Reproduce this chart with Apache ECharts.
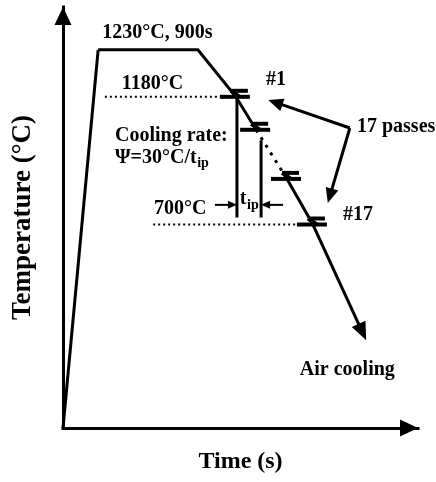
<!DOCTYPE html>
<html>
<head>
<meta charset="utf-8">
<script src="https://cdn.jsdelivr.net/npm/echarts@6/dist/echarts.min.js"></script>
<style>
  html, body { margin: 0; padding: 0; background: #fff; }
  #chart { width: 436px; height: 482px; }
</style>
</head>
<body>
<div id="chart"></div>
<script>
// Schematic thermal schedule: time and temperature are in schematic units (no scale shown)
const heating = [[0, 0], [9.9, 107.8]];
const soaking = [[9.9, 107.8], [38, 107.8]];
const coolingToSecondPass = [[38, 107.8], [48.7, 94.4], [54.4, 85]];
const skippedPasses = [[54.4, 85], [63.1, 71]];
const lastPasses = [[63.1, 71], [70.4, 58]];
const airCooling = [[70.4, 58], [85.4, 25]];

// rolling passes (#1, #2, #3 ... #17)
const passMarks = [[48.7, 94.4], [54.4, 85], [63.1, 71], [70.4, 58]];

// start / finish rolling temperature levels (1180°C, 700°C)
const startLevel = [[11.8, 94.4], [44.3, 94.4]];
const finishLevel = [[25.4, 58], [66, 58]];

// interpass time markers
const interpassTickA = [[49, 94.4], [49, 60]];
const interpassTickB = [[55.8, 82], [55.8, 60]];
const tipArrowLeft = [[42.8, 63.6], [49, 63.6]];
const tipArrowRight = [[62, 63.6], [55.8, 63.6]];

// "17 passes" pointers
const passPointerFrom = [80.8, 85.5];
const passPointerTo = [[57.8, 93.5], [74.6, 64.1]];

// texts
const labelText = ['1230°C, 900s', '1180°C', '#1', '17 passes', 'Cooling rate:', 'Ψ=30°C/t', '700°C', 't', '#17', 'Air cooling'];
const labelSub = ['', '', '', '', '', 'ip', '', 'ip', '', ''];
const labelPos = [[26.6, 112.5], [25.2, 98.1], [60, 99.2], [82.8, 85.8], [14.65, 83.2], [14.65, 77], [33, 62.4], [52.4, 65.3], [83.1, 60.7], [80.1, 16.5]];
const labelAlign = ['center', 'center', 'center', 'left', 'left', 'left', 'center', 'center', 'center', 'center'];

const FAMILY = '"Liberation Serif", "Times New Roman", serif';
const mainFont = 'bold 20px ' + FAMILY;
const subFont = 'bold 14px ' + FAMILY;
const ink = '#000';

const measureCtx = document.createElement('canvas').getContext('2d');
function textWidth(t, font) {
  measureCtx.font = font;
  return measureCtx.measureText(t).width;
}

function arrowShapes(p0, p1, headLen, headW, lw) {
  const dx = p1[0] - p0[0], dy = p1[1] - p0[1];
  const L = Math.hypot(dx, dy);
  const ux = dx / L, uy = dy / L;
  const bx = p1[0] - ux * headLen, by = p1[1] - uy * headLen;
  const nx = -uy, ny = ux;
  return [
    { type: 'line', shape: { x1: p0[0], y1: p0[1], x2: bx + ux * 2, y2: by + uy * 2 },
      style: { stroke: ink, lineWidth: lw } },
    { type: 'polygon', shape: { points: [[p1[0], p1[1]], [bx + nx * headW / 2, by + ny * headW / 2], [bx - nx * headW / 2, by - ny * headW / 2]] },
      style: { fill: ink } }
  ];
}

function lineSeries(data, width, type) {
  return {
    type: 'line', data: data, showSymbol: false, symbol: 'none', silent: true, animation: false,
    lineStyle: { color: ink, width: width, type: type || 'solid', cap: 'butt', join: 'miter' },
    z: 3
  };
}

const chart = echarts.init(document.getElementById('chart'), null, { renderer: 'canvas' });

const axisCommon = {
  type: 'value',
  axisTick: { show: false },
  axisLabel: { show: false },
  splitLine: { show: false },
  nameLocation: 'middle'
};

chart.setOption({
  backgroundColor: '#fff',
  animation: false,
  grid: { left: 63, right: 18, top: 7, bottom: 54, containLabel: false, outerBoundsMode: 'none' },
  xAxis: Object.assign({}, axisCommon, {
    min: 0, max: 100,
    name: 'Time (s)', nameGap: 22,
    nameTextStyle: { fontFamily: FAMILY, fontWeight: 'bold', fontSize: 24, color: ink },
    axisLine: { show: true, onZero: false, symbol: ['none', 'triangle'], symbolSize: [17, 18], symbolOffset: [0, -9],
      lineStyle: { color: ink, width: 3, cap: 'square' } }
  }),
  yAxis: Object.assign({}, axisCommon, {
    min: 0, max: 120,
    name: 'Temperature (°C)', nameGap: 26,
    nameTextStyle: { fontFamily: FAMILY, fontWeight: 'bold', fontSize: 27, color: ink },
    axisLine: { show: true, onZero: false, symbol: ['none', 'triangle'], symbolSize: [17, 18], symbolOffset: [0, -9],
      lineStyle: { color: ink, width: 3, cap: 'square' } }
  }),
  series: [
    lineSeries(heating, 3),
    lineSeries(soaking.concat(coolingToSecondPass.slice(1)), 3),
    lineSeries(skippedPasses, 3, [3, 6]),
    lineSeries(lastPasses, 3),
    lineSeries(startLevel, 2, [2, 3]),
    lineSeries(finishLevel, 2, [2, 3]),
    lineSeries(interpassTickA, 3),
    lineSeries(interpassTickB, 3),
    {
      // air cooling arrow
      type: 'custom', coordinateSystem: 'cartesian2d', silent: true, z: 4,
      data: [airCooling[0]],
      renderItem: function (params, api) {
        return { type: 'group', children: arrowShapes(api.coord(airCooling[0]), api.coord(airCooling[1]), 18, 15, 3) };
      }
    },
    {
      // interpass time arrows
      type: 'custom', coordinateSystem: 'cartesian2d', silent: true, z: 4,
      data: [tipArrowLeft[0], tipArrowRight[0]],
      renderItem: function (params, api) {
        const seg = params.dataIndex === 0 ? tipArrowLeft : tipArrowRight;
        return { type: 'group', children: arrowShapes(api.coord(seg[0]), api.coord(seg[1]), 9, 8, 2) };
      }
    },
    {
      // pointers from the "17 passes" note
      type: 'custom', coordinateSystem: 'cartesian2d', silent: true, z: 4,
      data: passPointerTo,
      renderItem: function (params, api) {
        return { type: 'group', children: arrowShapes(api.coord(passPointerFrom), api.coord(passPointerTo[params.dataIndex]), 15, 13, 3) };
      }
    },
    {
      // rolling pass symbols
      type: 'custom', coordinateSystem: 'cartesian2d', silent: true, z: 5,
      data: passMarks,
      renderItem: function (params, api) {
        const c = api.coord(passMarks[params.dataIndex]);
        const s = { stroke: ink, lineWidth: 4 };
        return { type: 'group', children: [
          { type: 'line', shape: { x1: c[0] - 16, y1: c[1], x2: c[0] + 14, y2: c[1] }, style: s },
          { type: 'line', shape: { x1: c[0] - 5, y1: c[1] - 6, x2: c[0] + 12, y2: c[1] - 6 }, style: s },
          { type: 'line', shape: { x1: c[0] + 4, y1: c[1], x2: c[0] - 5, y2: c[1] - 6 }, style: s }
        ] };
      }
    },
    {
      // annotations
      type: 'custom', coordinateSystem: 'cartesian2d', silent: true, z: 6,
      data: labelPos,
      renderItem: function (params, api) {
        const i = params.dataIndex;
        const p = api.coord(labelPos[i]);
        const main = labelText[i], sub = labelSub[i];
        const wMain = textWidth(main, mainFont);
        const wSub = sub ? textWidth(sub, subFont) : 0;
        let x0 = p[0];
        if (labelAlign[i] === 'center') x0 = p[0] - (wMain + wSub) / 2;
        const children = [{
          type: 'text', x: x0, y: p[1],
          style: { text: main, font: mainFont, fill: ink, align: 'left', verticalAlign: 'middle', textAlign: 'left', textVerticalAlign: 'middle' }
        }];
        if (sub) {
          children.push({
            type: 'text', x: x0 + wMain + 0.5, y: p[1] + 6,
            style: { text: sub, font: subFont, fill: ink, align: 'left', verticalAlign: 'middle', textAlign: 'left', textVerticalAlign: 'middle' }
          });
        }
        return { type: 'group', children: children };
      }
    }
  ]
});
</script>
</body>
</html>
